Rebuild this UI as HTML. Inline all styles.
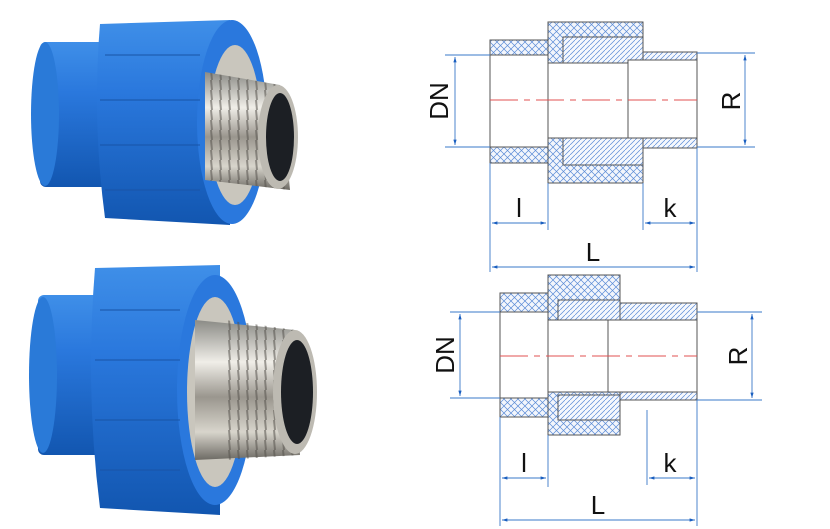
<!DOCTYPE html>
<html><head><meta charset="utf-8"><style>
body{margin:0;background:#fff;width:830px;height:529px;overflow:hidden}
svg{display:block}
text{font-family:"Liberation Sans",sans-serif;fill:#111}
</style></head><body>
<svg width="830" height="529" viewBox="0 0 830 529" xmlns="http://www.w3.org/2000/svg">
<defs>
<pattern id="x" width="7" height="7" patternUnits="userSpaceOnUse">
<rect width="7" height="7" fill="#f3f6fc"/>
<path d="M0 0L7 7M7 0L0 7" stroke="#5a8bd6" stroke-width="0.7"/>
</pattern>
<pattern id="h" width="5" height="5" patternUnits="userSpaceOnUse">
<rect width="5" height="5" fill="#f5f8fd"/>
<path d="M0 5L5 0" stroke="#5a8bd6" stroke-width="0.7"/>
</pattern>
<linearGradient id="blue" x1="0" y1="0" x2="0" y2="1">
<stop offset="0" stop-color="#3f8fe8"/><stop offset="0.35" stop-color="#2a78dd"/><stop offset="1" stop-color="#1256b0"/>
</linearGradient>
<linearGradient id="silver" x1="0" y1="0" x2="0" y2="1">
<stop offset="0" stop-color="#8b8b86"/><stop offset="0.3" stop-color="#f0eee8"/><stop offset="0.55" stop-color="#9a968e"/><stop offset="0.8" stop-color="#d8d5cc"/><stop offset="1" stop-color="#6d6a64"/>
</linearGradient>
<pattern id="thr" width="9" height="10" patternUnits="userSpaceOnUse">
<rect width="9" height="10" fill="none"/><line x1="4" y1="0" x2="5" y2="10" stroke="#55524c" stroke-width="2" opacity="0.55"/>
</pattern>
<marker id="a" viewBox="0 0 10 10" refX="10" refY="5" markerWidth="8" markerHeight="6" orient="auto-start-reverse"><path d="M0 2L10 5L0 8z" fill="#1a5fc0"/></marker>
</defs>

<!-- photo 1 -->
<g>
<rect x="40" y="42" width="70" height="145" rx="6" fill="url(#blue)"/>
<ellipse cx="45" cy="114" rx="14" ry="72" fill="#2a7ad8"/>
<path d="M100 24 L230 20 L230 225 L105 218 Q92 120 100 24z" fill="url(#blue)"/>
<ellipse cx="232" cy="122" rx="35" ry="102" fill="#2a78dd"/>
<ellipse cx="235" cy="125" rx="26" ry="80" fill="#c9c6bd"/>
<path d="M205 72 L280 85 L290 190 L205 180z" fill="url(#silver)"/>
<path d="M205 72 L280 85 L290 190 L205 180z" fill="url(#thr)"/>
<ellipse cx="278" cy="137" rx="20" ry="52" fill="#bdbab2"/>
<ellipse cx="280" cy="137" rx="14" ry="44" fill="#1c1f24"/>
<g stroke="#1a55a8" stroke-width="2" opacity="0.5"><line x1="105" y1="55" x2="200" y2="55"/><line x1="100" y1="100" x2="200" y2="100"/><line x1="100" y1="145" x2="200" y2="145"/><line x1="105" y1="190" x2="200" y2="190"/></g>
</g>
<!-- photo 2 -->
<g>
<rect x="38" y="295" width="75" height="160" rx="6" fill="url(#blue)"/>
<ellipse cx="43" cy="375" rx="14" ry="78" fill="#2a7ad8"/>
<path d="M95 268 L220 265 L220 515 L100 508 Q85 390 95 268z" fill="url(#blue)"/>
<ellipse cx="215" cy="390" rx="38" ry="115" fill="#2a78dd"/>
<ellipse cx="215" cy="392" rx="28" ry="95" fill="#c9c6bd"/>
<path d="M195 320 L295 330 L300 455 L195 460z" fill="url(#silver)"/>
<path d="M225 320 L295 330 L300 455 L225 460z" fill="url(#thr)"/>
<ellipse cx="295" cy="392" rx="22" ry="62" fill="#bdbab2"/>
<ellipse cx="297" cy="392" rx="16" ry="52" fill="#1c1f24"/>
<g stroke="#1a55a8" stroke-width="2" opacity="0.5"><line x1="100" y1="310" x2="180" y2="310"/><line x1="95" y1="360" x2="180" y2="360"/><line x1="95" y1="420" x2="180" y2="420"/><line x1="100" y1="470" x2="180" y2="470"/></g>
</g>

<!-- drawing 1 -->
<g stroke="#555" stroke-width="1">
<rect x="490" y="40" width="58" height="123" fill="url(#x)"/>
<rect x="548" y="22" width="95" height="161" fill="url(#x)"/>
<rect x="563" y="37" width="80" height="30" fill="url(#h)"/>
<rect x="563" y="135" width="80" height="30" fill="url(#h)"/>
<rect x="643" y="52" width="54" height="96" fill="url(#h)"/>
<rect x="490" y="55" width="58" height="92" fill="#fff"/>
<rect x="548" y="63" width="80" height="75" fill="#fff"/>
<rect x="628" y="60" width="69" height="78" fill="#fff"/>
</g>
<line x1="490" y1="100" x2="697" y2="100" stroke="#e05050" stroke-dasharray="28 6 6 6"/>
<g stroke="#3a78c8" stroke-width="0.9" fill="none">
<line x1="445" y1="55" x2="490" y2="55"/><line x1="445" y1="147" x2="490" y2="147"/>
<line x1="455" y1="57" x2="455" y2="145" marker-start="url(#a)" marker-end="url(#a)"/>
<line x1="697" y1="53" x2="755" y2="53"/><line x1="697" y1="147" x2="755" y2="147"/>
<line x1="745" y1="55" x2="745" y2="145" marker-start="url(#a)" marker-end="url(#a)"/>
<line x1="490" y1="163" x2="490" y2="272"/><line x1="548" y1="183" x2="548" y2="230"/>
<line x1="643" y1="183" x2="643" y2="230"/><line x1="697" y1="148" x2="697" y2="272"/>
<line x1="492" y1="223" x2="546" y2="223" marker-start="url(#a)" marker-end="url(#a)"/>
<line x1="645" y1="223" x2="695" y2="223" marker-start="url(#a)" marker-end="url(#a)"/>
<line x1="492" y1="267" x2="695" y2="267" marker-start="url(#a)" marker-end="url(#a)"/>
</g>
<text font-size="26" transform="translate(448,101) rotate(-90)" text-anchor="middle">DN</text>
<text font-size="26" transform="translate(740,101) rotate(-90)" text-anchor="middle">R</text>
<text x="519" y="217" font-size="26" text-anchor="middle">l</text>
<text x="670" y="217" font-size="26" text-anchor="middle">k</text>
<text x="593" y="261" font-size="26" text-anchor="middle">L</text>

<!-- drawing 2 -->
<g stroke="#555" stroke-width="1">
<rect x="500" y="293" width="48" height="124" fill="url(#x)"/>
<rect x="548" y="275" width="72" height="160" fill="url(#x)"/>
<rect x="558" y="300" width="62" height="25" fill="url(#h)"/>
<rect x="558" y="395" width="62" height="25" fill="url(#h)"/>
<rect x="620" y="303" width="77" height="97" fill="url(#h)"/>
<rect x="500" y="312" width="48" height="86" fill="#fff"/>
<rect x="548" y="320" width="60" height="72" fill="#fff"/>
<rect x="608" y="320" width="89" height="72" fill="#fff"/>
</g>
<line x1="500" y1="356" x2="697" y2="356" stroke="#e05050" stroke-dasharray="28 6 6 6"/>
<g stroke="#3a78c8" stroke-width="0.9" fill="none">
<line x1="450" y1="312" x2="500" y2="312"/><line x1="450" y1="398" x2="500" y2="398"/>
<line x1="460" y1="314" x2="460" y2="396" marker-start="url(#a)" marker-end="url(#a)"/>
<line x1="697" y1="312" x2="762" y2="312"/><line x1="697" y1="400" x2="762" y2="400"/>
<line x1="752" y1="314" x2="752" y2="398" marker-start="url(#a)" marker-end="url(#a)"/>
<line x1="500" y1="417" x2="500" y2="526"/><line x1="548" y1="435" x2="548" y2="487"/>
<line x1="647" y1="410" x2="647" y2="485"/><line x1="697" y1="400" x2="697" y2="526"/>
<line x1="502" y1="478" x2="546" y2="478" marker-start="url(#a)" marker-end="url(#a)"/>
<line x1="649" y1="478" x2="695" y2="478" marker-start="url(#a)" marker-end="url(#a)"/>
<line x1="502" y1="520" x2="695" y2="520" marker-start="url(#a)" marker-end="url(#a)"/>
</g>
<text font-size="26" transform="translate(454,355) rotate(-90)" text-anchor="middle">DN</text>
<text font-size="26" transform="translate(747,356) rotate(-90)" text-anchor="middle">R</text>
<text x="524" y="472" font-size="26" text-anchor="middle">l</text>
<text x="670" y="472" font-size="26" text-anchor="middle">k</text>
<text x="598" y="514" font-size="26" text-anchor="middle">L</text>
</svg>
</body></html>
